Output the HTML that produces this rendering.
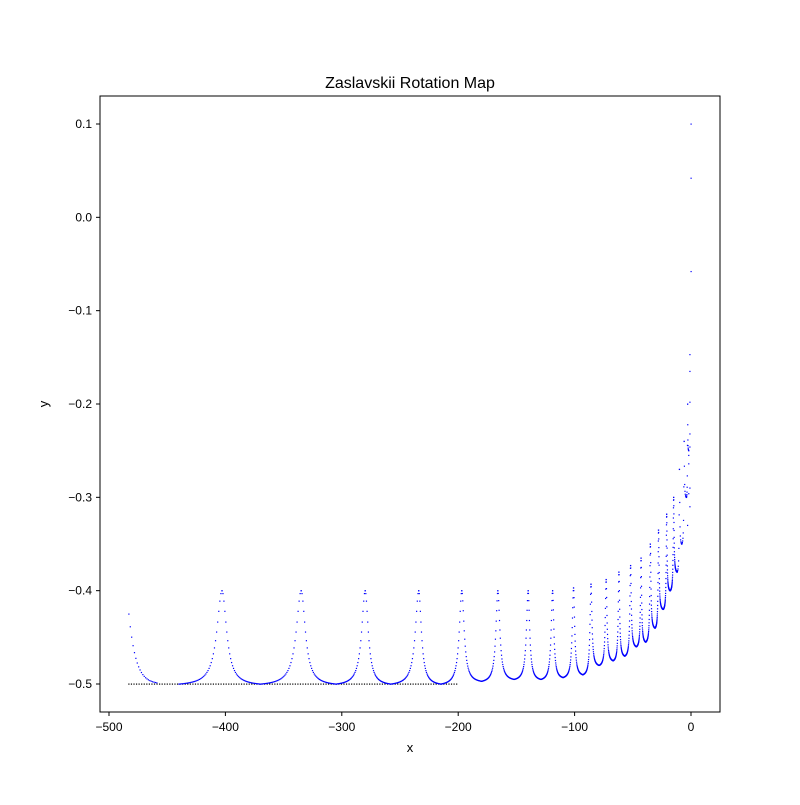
<!DOCTYPE html>
<html><head><meta charset="utf-8"><style>body{margin:0;background:#fff}svg text{font-family:"Liberation Sans",sans-serif}</style></head>
<body>
<svg width="800" height="800" xmlns="http://www.w3.org/2000/svg">
<rect width="800" height="800" fill="#fff"/>
<text x="410" y="88" text-anchor="middle" font-size="16">Zaslavskii Rotation Map</text>
<g id="marks"></g>
<rect x="100" y="96" width="620" height="616" fill="none" stroke="#000" stroke-width="1"/>
<g id="axes" font-size="12"></g>
<text x="410" y="752" text-anchor="middle" font-size="13">x</text>
<text x="48" y="404" text-anchor="middle" font-size="13" transform="rotate(-90 48 404)">y</text>
</svg>
<script>
const xTicks=[-500,-400,-300,-200,-100,0];
const yTicks=[0.1,0.0,-0.1,-0.2,-0.3,-0.4,-0.5];
const peakX=[-403,-335,-280,-234,-197,-166,-140,-119,-101,-86,-73,-62,-52,-43,-35,-28,-21,-15,-10,-6,-3];
const peakTop=[-0.40,-0.40,-0.40,-0.40,-0.40,-0.40,-0.40,-0.40,-0.397,-0.393,-0.388,-0.38,-0.373,-0.365,-0.35,-0.335,-0.318,-0.3,-0.27,-0.24,-0.2];
const troughX=[-440,-370,-305,-258,-215,-180,-152,-129,-110,-93,-79,-67,-57,-47,-39,-31,-24,-18,-12,-8,-4,-2];
const troughY=[-0.5,-0.5,-0.5,-0.5,-0.5,-0.497,-0.495,-0.495,-0.493,-0.49,-0.48,-0.475,-0.47,-0.46,-0.455,-0.44,-0.42,-0.4,-0.38,-0.35,-0.3,-0.25];
const tailX=[0,0,0,-1,-1,-1,-1,-1,-2,-1,-2,-2,-1,-3];
const tailY=[0.1,0.042,-0.058,-0.147,-0.165,-0.198,-0.232,-0.246,-0.255,-0.29,-0.296,-0.264,-0.31,-0.33];
const baseStart=-483, baseEnd=-200, baseY=-0.5;
const xs=v=>691+(v)*1.164, ys=v=>124+(0.1-v)*933.33;
const NS="http://www.w3.org/2000/svg";
const ax=document.getElementById('axes'), mk=document.getElementById('marks');
function el(t,a,p){const e=document.createElementNS(NS,t);for(const k in a)e.setAttribute(k,a[k]);p.appendChild(e);return e;}
xTicks.forEach(t=>{const x=xs(t);
 const l=el('line',{x1:x,x2:x,y1:712,y2:716,stroke:'#000'},ax);
 
 const tx=el('text',{x:x,y:731,'text-anchor':'middle'},ax);tx.textContent=(t<0?'\u2212'+(-t):t);
 });
yTicks.forEach(t=>{const y=ys(t);
 const l=el('line',{x1:96,x2:100,y1:y,y2:y,stroke:'#000'},ax);
 
 const tx=el('text',{x:92,y:y+4,'text-anchor':'end'},ax);tx.textContent=(t<0?'\u2212'+(-t).toFixed(1):t.toFixed(1));
 });
function dot(x,y,c){const r=el('rect',{x:xs(x)-0.5,y:ys(y)-0.5,width:1.2,height:1.2,fill:c||'#00f'},mk);
 }
for(let x=baseStart;x<=baseEnd;x+=2.2){dot(x,baseY,'#000');}
for(let i=0;i<=20;i++){const x=baseStart+i*1.2;dot(x,baseY+(-0.425-baseY)*Math.exp(-i/5));}
peakX.forEach((px,i)=>{const top=peakTop[i];
 [[troughX[i],troughY[i]],[troughX[i+1],troughY[i+1]]].forEach(([tx,ty])=>{
  const n=i>=peakX.length-3?8:40;const w=Math.abs(px-tx)/7;const fe=1/(1+49);
  for(let k=0;k<=n;k++){const s=k/n;const x=px+(tx-px)*s;const d=(x-px)/w;const f=1/(1+d*d);
   const y=ty+(top-ty)*(f-fe)/(1-fe);dot(x,y);}
 });});
tailX.forEach((x,i)=>dot(x,tailY[i]));
</script>
</body></html>
